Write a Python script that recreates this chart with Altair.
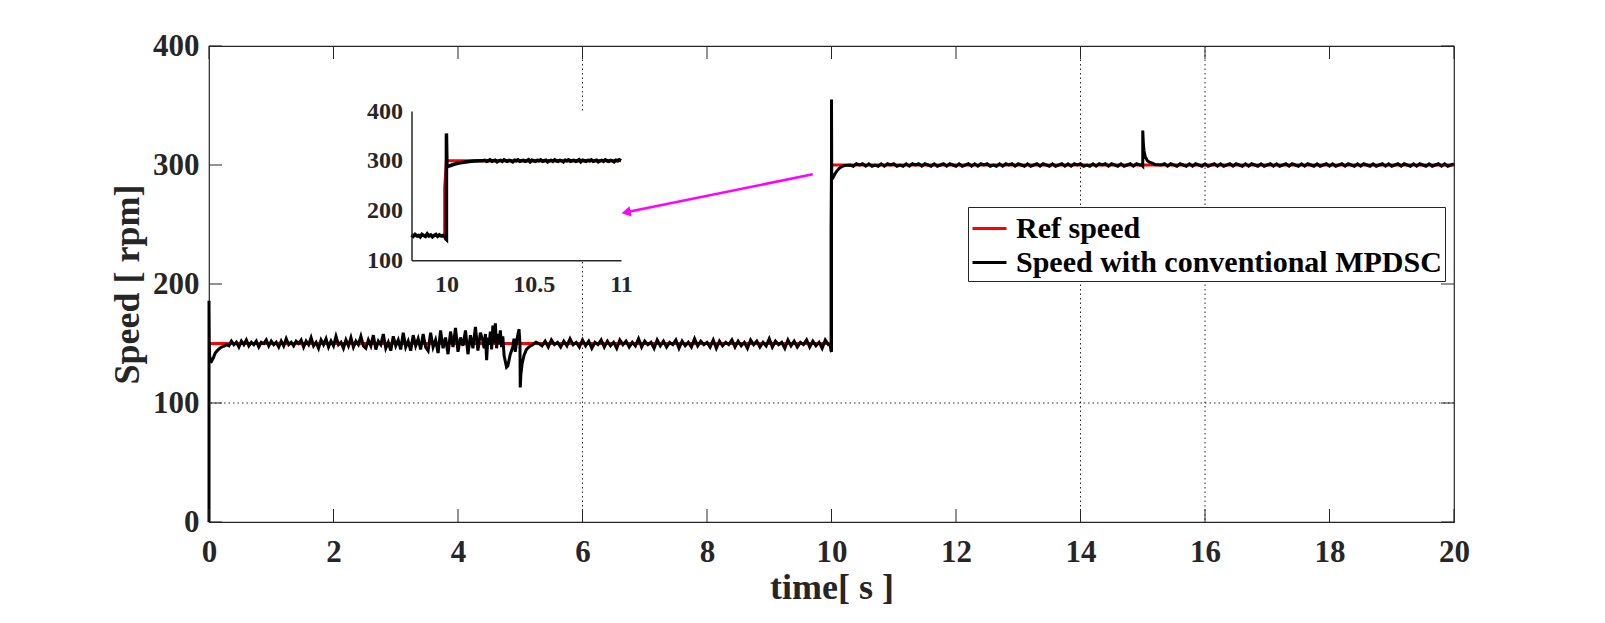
import altair as alt
import pandas as pd

# ---------------- data ----------------
# reference speed
ref_t = [0.0, 9.99, 9.99, 10.0, 20.0]
ref_v = [150, 150, 245, 300, 300]

# measured speed, start-up transient
start_t = [0.0, 0.0, 0.004, 0.01, 0.02, 0.04, 0.07, 0.1, 0.15, 0.2, 0.25, 0.28]
start_v = [0, 186, 152, 140, 136, 135, 138, 142, 145, 147, 148, 149]

# 150 rpm plateau, 0.32 s .. 4.36 s, sampled every 0.04 s
plat1_t0, plat1_dt = 0.32, 0.04
plat1_v = [148, 152, 149, 151, 147, 152, 149, 153, 148, 151, 149, 152, 147, 151, 150,
           153, 148, 152, 149, 151, 147, 152, 148, 154, 149, 151, 148, 152, 150, 153,
           147, 152, 149, 155, 148, 151, 146, 153, 149, 154, 147, 152, 148, 156, 149,
           151, 146, 153, 148, 155, 147, 152, 149, 156, 148,
           146, 153, 148, 157, 145, 152, 149, 158, 146, 151, 144, 156, 148, 153, 145,
           159, 147, 152, 144, 157, 148, 154, 145, 158, 147,
           144, 159, 147, 153, 142, 161, 146, 155, 141, 160, 147, 163, 143, 155, 148,
           161, 141, 157, 146, 164, 144, 159]

# disturbance around 5 s
dist_t = [4.40, 4.42, 4.44, 4.46, 4.48, 4.50, 4.52, 4.54, 4.56, 4.58, 4.60, 4.62, 4.64,
          4.66, 4.68, 4.70, 4.72, 4.74, 4.76, 4.78, 4.80, 4.82, 4.84, 4.86, 4.88, 4.90,
          4.92, 4.94, 4.96, 4.98, 4.995, 5.00, 5.01, 5.03, 5.06, 5.10, 5.15, 5.20, 5.25, 5.30]
dist_v = [152, 146, 158, 136, 155, 149, 160, 145, 165, 150, 167, 146, 158, 150, 161, 147,
          156, 140, 135, 130, 131, 136, 141, 144, 147, 154, 143, 151, 157, 162, 150, 113,
          124, 133, 140, 145, 147.5, 149, 151, 150]

# 150 rpm plateau, 5.35 s .. 9.95 s, every 0.05 s
plat2_t0, plat2_dt = 5.35, 0.05
plat2_v = [148, 152, 147, 153, 149, 151, 147, 152, 148, 154, 149, 151, 147, 153, 148, 152, 146, 151, 149, 153,
           147, 152, 148, 151, 146, 153, 149, 152, 147, 151, 148, 154, 147, 152, 149, 151, 146, 153, 148, 152,
           147, 151, 149, 153, 146, 152, 148, 151, 147, 154, 148, 152, 149, 151, 147, 153, 146, 152, 148, 151,
           149, 153, 147, 152, 148, 151, 146, 153, 149, 152, 147, 151, 148, 154, 147, 152, 149, 151, 146, 153,
           148, 152, 147, 151, 149, 153, 147, 152, 148, 151, 146, 153, 149]

# step 150 -> 300 rpm at 10 s
step_t = [9.98, 9.992, 10.0, 10.0, 10.004, 10.02, 10.05, 10.08, 10.12, 10.16, 10.2, 10.3]
step_v = [149, 144, 143, 355, 288, 289, 292, 294.5, 297, 298.5, 299.5, 300]

# 300 rpm plateau, 10.35 s .. 14.95 s
plat3_t0, plat3_dt = 10.35, 0.05
plat3_v = [299, 301, 300, 301, 299, 301, 299, 300, 299, 301, 299, 301, 300, 301, 299, 300, 299, 301, 299, 301,
           300, 301, 299, 301, 300, 299, 301, 299, 300, 301, 299, 301, 300, 299, 301, 299, 300, 301, 299, 301,
           299, 301, 300, 301, 299, 300, 299, 301, 299, 301, 300, 301, 299, 301, 300, 299, 301, 299, 300, 301,
           299, 301, 300, 299, 301, 299, 300, 301, 299, 301, 299, 301, 300, 301, 299, 300, 299, 301, 299, 301,
           300, 301, 299, 301, 300, 299, 301, 299, 300, 301, 299, 301, 300]

# load disturbance at 15 s
load_t = [14.98, 15.0, 15.0, 15.01, 15.02, 15.04, 15.07, 15.1, 15.15, 15.2, 15.3]
load_v = [300, 299, 329, 318, 312, 307, 304, 302.5, 301.5, 300.5, 300]

# 300 rpm plateau, 15.35 s .. 20 s
plat4_t0, plat4_dt = 15.35, 0.05
plat4_v = [301, 299, 301, 300, 299, 301, 300, 299, 301, 299, 301, 300, 299, 301, 299, 300, 301, 299, 301, 299,
           300, 301, 299, 301, 300, 299, 301, 299, 301, 300, 299, 301, 299, 300, 301, 299, 301, 299, 300, 301,
           299, 301, 300, 299, 301, 299, 301, 300, 299, 301, 299, 300, 301, 299, 301, 299, 300, 301, 299, 301,
           300, 299, 301, 299, 301, 300, 299, 301, 299, 300, 301, 299, 301, 299, 300, 301, 299, 301, 300, 299,
           301, 299, 301, 300, 299, 301, 299, 300, 301, 299, 301, 299, 300, 301]

# zoomed inset (9.8 s .. 11 s)
inset_ref_t = [9.8, 9.99, 9.99, 10.0, 11.0]
inset_ref_v = [150, 150, 245, 300, 300]
inset_pre_t0, inset_pre_dt = 9.80, 0.01
inset_pre_v = [151, 148, 152, 149, 150, 147, 152, 150, 148, 153, 149, 151, 147, 150, 152, 148, 151, 149, 150]
inset_step_t = [9.99, 9.997, 10.0, 10.0, 10.003, 10.01, 10.02, 10.04, 10.06, 10.08, 10.1, 10.13, 10.16, 10.2]
inset_step_v = [148, 143, 142, 355, 289, 288.5, 290, 292.5, 294.5, 296, 297, 298.5, 299.5, 300]
inset_post_t0, inset_post_dt = 10.21, 0.01
inset_post_v = [300, 301, 299, 300, 302, 299, 300, 301, 298, 300, 301, 299, 302, 300, 299, 301, 300, 298, 301, 300,
                302, 299, 300, 301, 299, 300, 302, 298, 301, 300, 299, 301, 300, 302, 299, 300, 301, 298, 300, 301,
                299, 302, 300, 299, 301, 300, 298, 301, 300, 302, 299, 300, 301, 299, 300, 302, 298, 301, 300, 299,
                301, 300, 302, 299, 300, 301, 298, 300, 301, 299, 302, 300, 299, 301, 300, 298, 301, 300, 302, 300]

# axes / annotations
x_ticks = [0, 2, 4, 6, 8, 10, 12, 14, 16, 18, 20]
y_ticks = [0, 100, 200, 300, 400]
grid_x = [6, 14, 16]
grid_y = [100]
inset_x_ticks = [10, 10.5, 11]
inset_y_ticks = [100, 200, 300, 400]
inset_t_domain = [9.8, 11]
inset_v_domain = [100, 400]
arrow_x, arrow_y = [9.70], [292.2]
arrow_x2, arrow_y2 = [6.70], [260.3]

REF_LABEL = "\u00a0Ref speed"
SPD_LABEL = "Speed with conventional MPDSC"

# ---------------- assemble ----------------
def sampled(t0, dt, vals):
    return [round(t0 + dt * k, 4) for k in range(len(vals))], list(vals)

spd_t, spd_v = list(start_t), list(start_v)
for part in [sampled(plat1_t0, plat1_dt, plat1_v), (dist_t, dist_v),
             sampled(plat2_t0, plat2_dt, plat2_v), (step_t, step_v),
             sampled(plat3_t0, plat3_dt, plat3_v), (load_t, load_v),
             sampled(plat4_t0, plat4_dt, plat4_v)]:
    spd_t += list(part[0])
    spd_v += list(part[1])

ins_t, ins_v = [], []
for part in [sampled(inset_pre_t0, inset_pre_dt, inset_pre_v), (inset_step_t, inset_step_v),
             sampled(inset_post_t0, inset_post_dt, inset_post_v)]:
    ins_t += list(part[0])
    ins_v += list(part[1])

ref_df = pd.DataFrame({"t": ref_t, "v": ref_v, "series": REF_LABEL, "i": range(len(ref_t))})
spd_df = pd.DataFrame({"t": spd_t, "v": spd_v, "series": SPD_LABEL, "i": range(len(spd_t))})
iref_df = pd.DataFrame({"t": inset_ref_t, "v": inset_ref_v, "i": range(len(inset_ref_t))})
ispd_df = pd.DataFrame({"t": ins_t, "v": ins_v, "i": range(len(ins_t))})

W, H = 1245, 476
FONT = "Liberation Serif"
INK = "#262626"
TICK = 13


def xs():
    return alt.Scale(domain=[0, 20], nice=False, zero=False)


def ys():
    return alt.Scale(domain=[0, 400], nice=False, zero=True)


x_axis = alt.Axis(orient="bottom", values=x_ticks, format="d", title="time[ s ]", tickSize=0,
                  domain=False, grid=False, labelFlush=False,
                  labelFont=FONT, labelFontSize=31, labelFontWeight="bold", labelColor=INK, labelPadding=15,
                  titleFont=FONT, titleFontSize=36, titleFontWeight="bold", titleColor=INK, titlePadding=3)
y_axis = alt.Axis(orient="left", values=y_ticks, format="d", title="Speed [ rpm]", tickSize=0,
                  domain=False, grid=False, labelFlush=False,
                  labelFont=FONT, labelFontSize=31, labelFontWeight="bold", labelColor=INK, labelPadding=10,
                  titleFont=FONT, titleFontSize=36, titleFontWeight="bold", titleColor=INK, titlePadding=6)

color_enc = alt.Color("series:N",
                      scale=alt.Scale(domain=[REF_LABEL, SPD_LABEL], range=["#FF0000", "#000000"]),
                      legend=alt.Legend(title=None, orient="none", legendX=759, legendY=161,
                                        direction="vertical", symbolType="stroke", symbolSize=1156,
                                        symbolStrokeWidth=3, labelFont=FONT, labelFontSize=30,
                                        labelFontWeight="bold", labelColor="black", labelLimit=1000,
                                        padding=3, fillColor="white", strokeColor=INK,
                                        rowPadding=0, labelOffset=8))

grid_v = alt.Chart(pd.DataFrame({"gx": grid_x})).mark_rule(
    color=INK, strokeWidth=1, strokeDash=[1.5, 3]).encode(x=alt.X("gx:Q", scale=xs(), axis=None))
grid_h = alt.Chart(pd.DataFrame({"gy": grid_y})).mark_rule(
    color=INK, strokeWidth=1, strokeDash=[1.5, 3]).encode(y=alt.Y("gy:Q", scale=ys(), axis=None))

ref_line = alt.Chart(ref_df).mark_line(strokeWidth=3).encode(
    x=alt.X("t:Q", scale=xs(), axis=x_axis), y=alt.Y("v:Q", scale=ys(), axis=y_axis),
    color=color_enc, order="i:Q")
spd_line = alt.Chart(spd_df).mark_line(strokeWidth=3).encode(
    x=alt.X("t:Q", scale=xs(), axis=None), y=alt.Y("v:Q", scale=ys(), axis=None),
    color=color_enc, order="i:Q")

xt_df = pd.DataFrame({"xt": x_ticks})
yt_df = pd.DataFrame({"yt": y_ticks})
tick_b = alt.Chart(xt_df).mark_rule(color=INK).encode(
    x=alt.X("xt:Q", scale=xs(), axis=None), y=alt.value(H), y2=alt.value(H - TICK))
tick_t = alt.Chart(xt_df).mark_rule(color=INK).encode(
    x=alt.X("xt:Q", scale=xs(), axis=None), y=alt.value(0), y2=alt.value(TICK))
tick_l = alt.Chart(yt_df).mark_rule(color=INK).encode(
    y=alt.Y("yt:Q", scale=ys(), axis=None), x=alt.value(0), x2=alt.value(TICK))
tick_r = alt.Chart(yt_df).mark_rule(color=INK).encode(
    y=alt.Y("yt:Q", scale=ys(), axis=None), x=alt.value(W - TICK), x2=alt.value(W))

arrow_df = pd.DataFrame({"x": arrow_x, "y": arrow_y, "x2": arrow_x2, "y2": arrow_y2})
arrow_line = alt.Chart(arrow_df).mark_rule(color="#FF00FF", strokeWidth=2.5).encode(
    x=alt.X("x:Q", scale=xs(), axis=None), y=alt.Y("y:Q", scale=ys(), axis=None), x2="x2:Q", y2="y2:Q")
arrow_head = alt.Chart(arrow_df).mark_point(shape="triangle-up", filled=True, color="#FF00FF",
                                            opacity=1, size=110, angle=258.5).encode(
    x=alt.X("x2:Q", scale=xs(), axis=None), y=alt.Y("y2:Q", scale=ys(), axis=None))

# inset placed with pixel ranges inside the plot area
IX0, IX1 = 202.5, 412.0
IY_BOT, IY_TOP = 214.3, 65.0


def ixs():
    return alt.Scale(domain=inset_t_domain, range=[IX0, IX1], nice=False, zero=False)


def iys():
    return alt.Scale(domain=inset_v_domain, range=[IY_BOT, IY_TOP], nice=False, zero=False)


ix_axis = alt.Axis(orient="bottom", offset=-(H - IY_BOT), values=inset_x_ticks, format="~g", title=None,
                   tickSize=0, grid=False, labelFlush=False, domainColor=INK, domainWidth=1.5, labelFont=FONT,
                   labelFontSize=24, labelFontWeight="bold", labelColor=INK, labelPadding=12, zindex=2)
iy_axis = alt.Axis(orient="left", offset=-IX0, values=inset_y_ticks, format="d", title=None,
                   tickSize=0, grid=False, labelFlush=False, domainColor=INK, domainWidth=1.5, labelFont=FONT,
                   labelFontSize=24, labelFontWeight="bold", labelColor=INK, labelPadding=9, zindex=2)

bg_df = pd.DataFrame({"x": [inset_t_domain[0]], "x2": [inset_t_domain[1]],
                      "y": [inset_v_domain[0]], "y2": [inset_v_domain[1]]})
inset_bg = alt.Chart(bg_df).mark_rect(fill="white").encode(
    x=alt.X("x:Q", scale=ixs(), axis=None), x2="x2:Q",
    y=alt.Y("y:Q", scale=iys(), axis=None), y2="y2:Q")
inset_ref = alt.Chart(iref_df).mark_line(color="#FF0000", strokeWidth=3).encode(
    x=alt.X("t:Q", scale=ixs(), axis=ix_axis), y=alt.Y("v:Q", scale=iys(), axis=iy_axis), order="i:Q")
inset_spd = alt.Chart(ispd_df).mark_line(color="#000000", strokeWidth=3.5).encode(
    x=alt.X("t:Q", scale=ixs(), axis=None), y=alt.Y("v:Q", scale=iys(), axis=None), order="i:Q")

chart = alt.layer(grid_v, grid_h, ref_line, spd_line, tick_b, tick_t, tick_l, tick_r,
                  arrow_line, arrow_head, inset_bg, inset_ref, inset_spd).resolve_scale(
    x="independent", y="independent").properties(
    width=W, height=H,
    padding={"left": 201, "top": 38, "right": 100, "bottom": 90},
    autosize=alt.AutoSizeParams(type="none"),
    background="white",
).configure_view(stroke=INK, strokeWidth=1.2)

chart.save("out.html", embed_options={"renderer": "svg", "actions": False})
